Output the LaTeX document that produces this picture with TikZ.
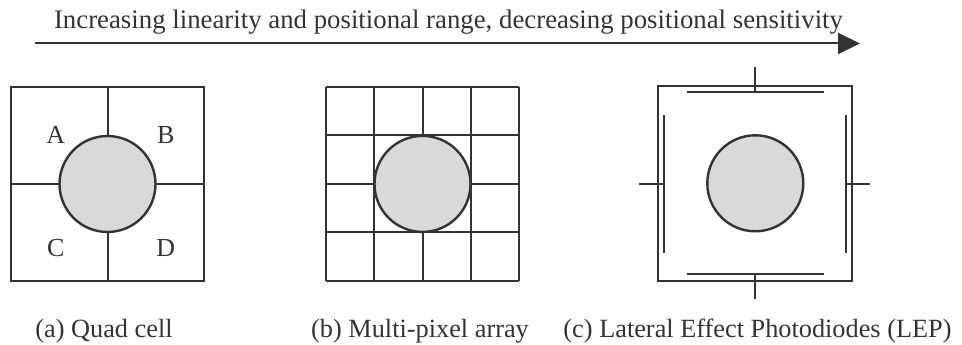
\documentclass[tikz,border=0pt]{standalone}
\usepackage{fontspec}
\setmainfont{Liberation Serif}
\usetikzlibrary{arrows.meta}
\definecolor{ink}{HTML}{333333}
\definecolor{spot}{HTML}{D9D9D9}
\begin{document}
\begin{tikzpicture}[x=1pt,y=-1pt,
  frame/.style={draw=ink,line width=2pt},
  bar/.style={draw=ink,line width=2.2pt},
  spotc/.style={circle,draw=ink,fill=spot,line width=2.4pt,minimum size=96pt,inner sep=0pt},
  lbl/.style={text=ink,font=\fontsize{26}{30}\selectfont,inner sep=0pt},
  captext/.style={text=ink,font=\fontsize{26.3}{30}\selectfont,inner sep=0pt,anchor=base},
  titletext/.style={text=ink,font=\fontsize{26.8}{30}\selectfont,inner sep=0pt,anchor=base}]
\useasboundingbox (0,0) rectangle (962,345);
% title arrow
\node[titletext] (title) at (448.5,28.3) {Increasing linearity and positional range, decreasing positional sensitivity};
\coordinate (as) at (35,43.5);
\coordinate (ae) at (860,43.5);
\draw[ink,line width=2pt,-{Triangle[length=22pt,width=21pt]}] (as) -- (ae);
% (a) quad cell
\draw[frame] (11,87) rectangle (204,281);
\draw[frame] (107.5,87) -- (107.5,281);
\draw[frame] (11,184) -- (204,184);
\node[spotc] (qa) at (107.5,184) {};
\node[lbl] (la) at (55.7,135) {A};
\node[lbl] (lb) at (165.7,135) {B};
\node[lbl] (lc) at (55.7,247.7) {C};
\node[lbl] (ld) at (165.7,247.7) {D};
\node[captext] (capa) at (104,337) {(a) Quad cell};
% (b) multi-pixel
\foreach \i in {0,...,4}{
  \draw[frame] (325.7+48.4*\i,86.7) -- (325.7+48.4*\i,281);
  \draw[frame] (325.7,86.7+48.58*\i) -- (519.3,86.7+48.58*\i);
}
\node[spotc] (mb) at (422.5,183.9) {};
\node[captext] (capb) at (420,337) {(b) Multi-pixel array};
% (c) LEP
\draw[frame] (658.3,86) rectangle (852.3,280.7);
\node[spotc] (lc2) at (755.3,183.3) {};
\draw[bar] (687,92.3) -- (823.5,92.3);
\draw[bar] (687,273.7) -- (823.5,273.7);
\draw[bar] (664.3,115) -- (664.3,252.7);
\draw[bar] (846.3,115) -- (846.3,252.7);
\draw[bar] (755.3,67.3) -- (755.3,92.3);
\draw[bar] (755.3,273.7) -- (755.3,299);
\draw[bar] (639.3,184) -- (664.3,184);
\draw[bar] (846.3,184) -- (870.3,184);
\node[captext] (capc) at (757.5,337) {(c) Lateral Effect Photodiodes (LEP)};
\end{tikzpicture}
\end{document}
